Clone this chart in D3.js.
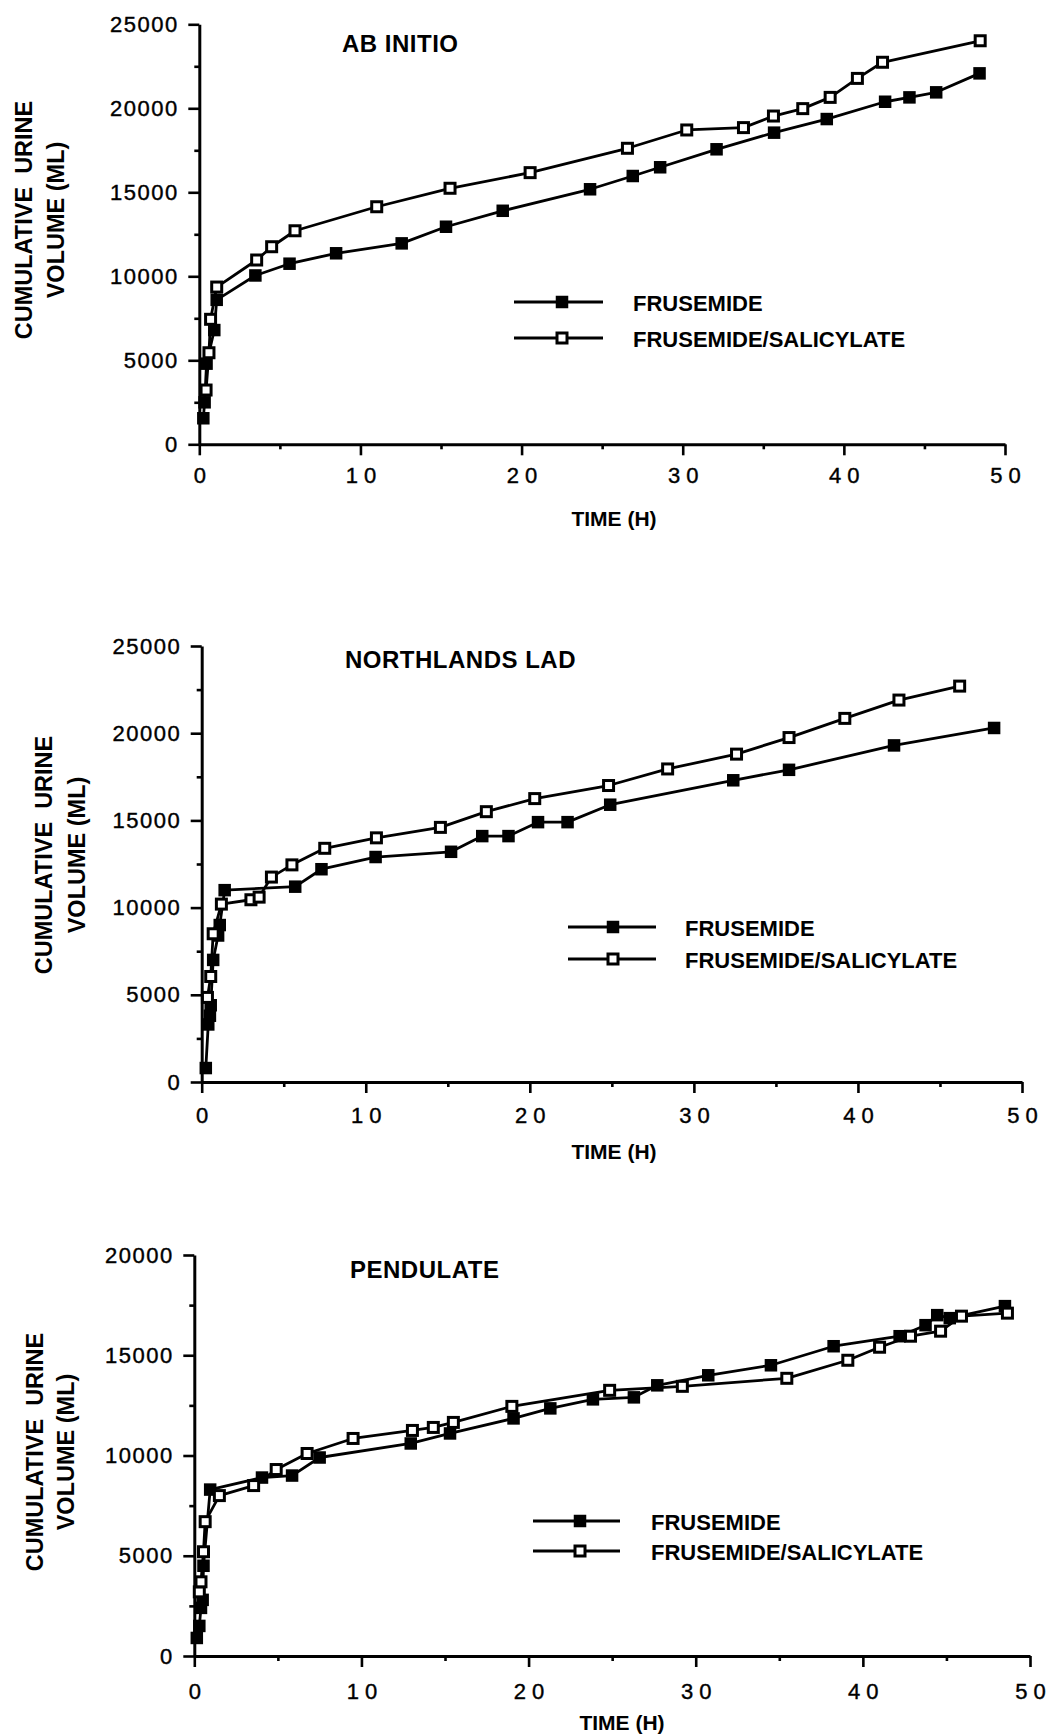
<!DOCTYPE html>
<html>
<head>
<meta charset="utf-8">
<script src="https://cdn.jsdelivr.net/npm/d3@7"></script>
<style>
  html, body { margin: 0; padding: 0; background: #fff; }
  svg { display: block; }
  text { font-family: "Liberation Sans", Arial, Helvetica, sans-serif; fill: #000; }
</style>
</head>
<body>
<svg id="chart" width="1049" height="1736"></svg>
<script>
// ---- Cumulative urine volume (mL) against time (h), three subjects ----

// AB INITIO
const abInitioFruTime   = [0.25, 0.33, 0.45, 0.93, 1.08, 3.48, 5.6, 8.49, 12.56, 15.31, 18.83, 24.25, 26.9, 28.6, 32.1, 35.67, 38.94, 42.56, 44.07, 45.73, 48.42];
const abInitioFruVolume = [1550, 2500, 4800, 6800, 8600, 10050, 10750, 11370, 11960, 12950, 13900, 15180, 15970, 16490, 17560, 18550, 19360, 20390, 20650, 20950, 22080];
const abInitioSalTime   = [0.42, 0.6, 0.7, 1.08, 3.56, 4.49, 5.94, 11.01, 15.56, 20.53, 26.57, 30.25, 33.77, 35.63, 37.45, 39.15, 40.84, 42.4, 48.46];
const abInitioSalVolume = [3230, 5450, 7440, 9360, 10970, 11760, 12710, 14140, 15240, 16170, 17620, 18710, 18850, 19540, 19980, 20650, 21780, 22740, 24020];

// NORTHLANDS LAD
const northlandsFruTime   = [0.25, 0.4, 0.5, 0.55, 0.7, 1.0, 1.1, 1.4, 5.7, 7.3, 10.6, 15.2, 17.1, 18.7, 20.5, 22.3, 24.9, 32.4, 35.8, 42.2, 48.3];
const northlandsFruVolume = [800, 3300, 3800, 4400, 7000, 8400, 9000, 11000, 11200, 12200, 12900, 13200, 14100, 14100, 14900, 14900, 15900, 17300, 17900, 19300, 20300];
const northlandsSalTime   = [0.35, 0.55, 0.7, 1.2, 3.0, 3.5, 4.25, 5.5, 7.5, 10.65, 14.55, 17.35, 20.3, 24.8, 28.4, 32.6, 35.8, 39.2, 42.5, 46.2];
const northlandsSalVolume = [4850, 6050, 8500, 10200, 10450, 10600, 11750, 12450, 13400, 14000, 14600, 15500, 16250, 17000, 17950, 18800, 19750, 20850, 21900, 22700];

// PENDULATE
const pendulateFruTime   = [0.15, 0.3, 0.4, 0.5, 0.55, 0.95, 4.05, 5.85, 7.5, 12.95, 15.3, 19.1, 21.3, 23.85, 26.3, 27.7, 30.75, 34.5, 38.25, 42.2, 43.75, 44.45, 45.2, 48.5];
const pendulateFruVolume = [900, 1500, 2400, 2800, 4500, 8300, 8900, 9000, 9900, 10600, 11100, 11850, 12350, 12800, 12900, 13500, 14000, 14500, 15450, 15950, 16500, 17000, 16850, 17450];
const pendulateSalTime   = [0.3, 0.4, 0.55, 0.65, 1.5, 3.55, 4.9, 6.75, 9.5, 13.05, 14.3, 15.5, 19.0, 24.85, 29.2, 35.45, 39.1, 41.0, 42.85, 44.65, 45.9, 48.65];
const pendulateSalVolume = [3200, 3700, 5200, 6700, 8000, 8500, 9300, 10100, 10850, 11250, 11400, 11650, 12450, 13250, 13450, 13850, 14750, 15400, 15950, 16200, 16950, 17100];

// Series and axis labels
const seriesNames = ["FRUSEMIDE", "FRUSEMIDE/SALICYLATE"];
const panelTitles = ["AB INITIO", "NORTHLANDS LAD", "PENDULATE"];
const xTickMajor = [0, 10, 20, 30, 40, 50];
const xTickMinor = [5, 15, 25, 35, 45];
const yTickMajor25 = [0, 5000, 10000, 15000, 20000, 25000];
const yTickMajor20 = [0, 5000, 10000, 15000, 20000];
const xTitle = "TIME (H)";
const yTitleLines = ["CUMULATIVE  URINE", "VOLUME (ML)"];

const zip = (t, v) => t.map((d, i) => ({ t: d, v: v[i] }));

// Panel geometry (pixels)
const panels = [
  {
    title: panelTitles[0], yMax: 25000, yMajor: yTickMajor25,
    left: 199.3, right: 1005, top: 24.3, bottom: 444.3,
    fru: zip(abInitioFruTime, abInitioFruVolume),
    sal: zip(abInitioSalTime, abInitioSalVolume),
    titleX: 342, titleY: 52,
    yTitleX: [24, 56], yTitleY: 220,
    xTitleX: 614, xTitleY: 526, xLabelY: 39,
    legend: { x1: 514, x2: 603, mx: 562, rows: [302, 338], tx: 633 }
  },
  {
    title: panelTitles[1], yMax: 25000, yMajor: yTickMajor25,
    left: 201.7, right: 1022, top: 646, bottom: 1082,
    fru: zip(northlandsFruTime, northlandsFruVolume),
    sal: zip(northlandsSalTime, northlandsSalVolume),
    titleX: 345, titleY: 668,
    yTitleX: [44, 77], yTitleY: 855,
    xTitleX: 614, xTitleY: 1159, xLabelY: 41,
    legend: { x1: 568, x2: 656, mx: 613, rows: [927, 959], tx: 685 }
  },
  {
    title: panelTitles[2], yMax: 20000, yMajor: yTickMajor20,
    left: 194.3, right: 1030, top: 1255, bottom: 1656,
    fru: zip(pendulateFruTime, pendulateFruVolume),
    sal: zip(pendulateSalTime, pendulateSalVolume),
    titleX: 350, titleY: 1278,
    yTitleX: [35, 66], yTitleY: 1452,
    xTitleX: 622, xTitleY: 1730, xLabelY: 43,
    legend: { x1: 533, x2: 620, mx: 580, rows: [1521, 1551], tx: 651 }
  }
];

const svg = d3.select("#chart");
const LINE_W = 2.8;
const FILLED = 12.5;   // filled square side
const OPEN = 10;       // open square side (plus stroke)

function filledSquare(sel, cx, cy) {
  sel.append("rect")
    .attr("x", cx - FILLED / 2).attr("y", cy - FILLED / 2)
    .attr("width", FILLED).attr("height", FILLED)
    .attr("fill", "#000");
}
function openSquare(sel, cx, cy) {
  sel.append("rect")
    .attr("x", cx - OPEN / 2).attr("y", cy - OPEN / 2)
    .attr("width", OPEN).attr("height", OPEN)
    .attr("fill", "#fff").attr("stroke", "#000").attr("stroke-width", 3);
}

function styleAxis(g) {
  g.attr("font-family", null).attr("font-size", null);
  g.select(".domain").attr("stroke", "#000").attr("stroke-width", 3);
  g.selectAll(".tick line").attr("stroke", "#000").attr("stroke-width", 2.6);
}

panels.forEach(p => {
  const x = d3.scaleLinear().domain([0, 50]).range([p.left, p.right]);
  const y = d3.scaleLinear().domain([0, p.yMax]).range([p.bottom, p.top]);
  const g = svg.append("g");

  // minor ticks (every 2500 mL, every 5 h)
  const yMinor = d3.range(2500, p.yMax, 5000);
  g.append("g").attr("transform", `translate(${p.left},0)`)
    .call(d3.axisLeft(y).tickValues(yMinor).tickSize(5).tickFormat(""))
    .call(styleAxis).call(a => a.select(".domain").remove());
  g.append("g").attr("transform", `translate(0,${p.bottom})`)
    .call(d3.axisBottom(x).tickValues(xTickMinor).tickSize(5).tickFormat(""))
    .call(styleAxis).call(a => a.select(".domain").remove());

  // major y axis
  const ya = g.append("g").attr("transform", `translate(${p.left},0)`)
    .call(d3.axisLeft(y).tickValues(p.yMajor).tickSize(11).tickSizeOuter(0)
      .tickPadding(11).tickFormat(d3.format("d")))
    .call(styleAxis);
  ya.selectAll(".tick text")
    .attr("x", -20.5)
    .attr("font-size", 22).attr("letter-spacing", 1.5)
    .attr("stroke", "#000").attr("stroke-width", 0.4);

  // major x axis; digits of each label are spread apart
  const xa = g.append("g").attr("transform", `translate(0,${p.bottom})`)
    .call(d3.axisBottom(x).tickValues(xTickMajor).tickSize(11).tickSizeOuter(0)
      .tickFormat(d3.format("d")))
    .call(styleAxis);
  xa.selectAll(".tick text").each(function () {
    const t = d3.select(this);
    const chars = t.text().split("");
    t.text(null).attr("y", p.xLabelY).attr("dy", null)
      .attr("font-size", 22)
      .attr("stroke", "#000").attr("stroke-width", 0.4);
    chars.forEach((c, i) => t.append("tspan").attr("dx", i ? 6 : 0).text(c));
  });

  // axis titles
  g.append("text").attr("x", p.xTitleX).attr("y", p.xTitleY)
    .attr("text-anchor", "middle").attr("font-size", 21).attr("font-weight", "bold")
    .text(xTitle);
  yTitleLines.forEach((line, i) => {
    g.append("text")
      .attr("transform", `translate(${p.yTitleX[i]},${p.yTitleY}) rotate(-90)`)
      .attr("text-anchor", "middle").attr("dy", "0.36em")
      .attr("font-size", 23.5).attr("font-weight", "bold")
      .style("white-space", "pre")
      .text(line);
  });

  // panel title
  g.append("text").attr("x", p.titleX).attr("y", p.titleY)
    .attr("font-size", 24).attr("font-weight", "bold").attr("letter-spacing", 0.5)
    .text(p.title);

  // series lines
  const line = d3.line().x(d => x(d.t)).y(d => y(d.v));
  g.append("path").datum(p.fru).attr("d", line)
    .attr("fill", "none").attr("stroke", "#000").attr("stroke-width", LINE_W)
    .attr("stroke-linejoin", "round");
  const fm = g.append("g");
  p.fru.forEach(d => filledSquare(fm, x(d.t), y(d.v)));

  g.append("path").datum(p.sal).attr("d", line)
    .attr("fill", "none").attr("stroke", "#000").attr("stroke-width", LINE_W)
    .attr("stroke-linejoin", "round");
  const om = g.append("g");
  p.sal.forEach(d => openSquare(om, x(d.t), y(d.v)));

  // legend
  const L = p.legend;
  seriesNames.forEach((name, i) => {
    const ry = L.rows[i];
    g.append("line").attr("x1", L.x1).attr("x2", L.x2).attr("y1", ry).attr("y2", ry)
      .attr("stroke", "#000").attr("stroke-width", LINE_W);
    if (i === 0) filledSquare(g, L.mx, ry); else openSquare(g, L.mx, ry);
    g.append("text").attr("x", L.tx).attr("y", ry + 9)
      .attr("font-size", 22).attr("font-weight", "bold")
      .text(name);
  });
});
</script>
</body>
</html>
